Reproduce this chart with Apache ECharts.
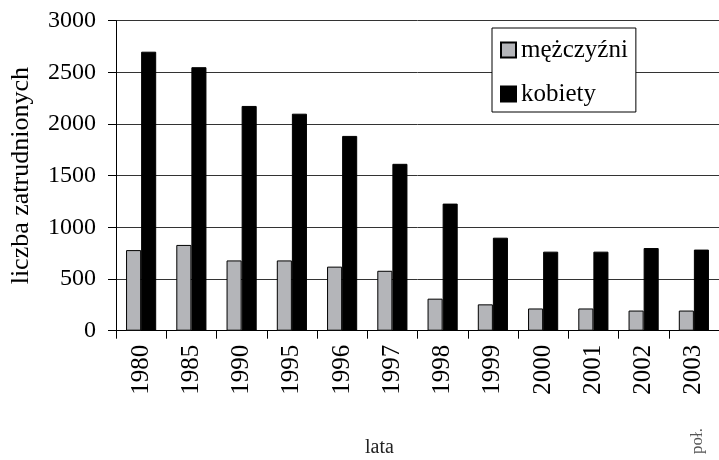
<!DOCTYPE html>
<html>
<head>
<meta charset="utf-8">
<script src="https://cdn.jsdelivr.net/npm/echarts@6/dist/echarts.min.js"></script>
<style>
  html, body { margin: 0; padding: 0; background: #fff; }
  #chart { width: 719px; height: 460px; }
</style>
</head>
<body>
<div id="chart"></div>
<script>
// dane
var lata = ["1980", "1985", "1990", "1995", "1996", "1997", "1998", "1999", "2000", "2001", "2002", "2003"];
var mezczyzni = [780, 830, 680, 680, 620, 580, 310, 255, 215, 215, 195, 195];
var kobiety = [2700, 2550, 2175, 2100, 1885, 1615, 1230, 900, 765, 765, 800, 785];
var yTicks = [0, 500, 1000, 1500, 2000, 2500, 3000];

var font = "Liberation Serif";
var chart = echarts.init(document.getElementById("chart"));

var option = {
  backgroundColor: "#fff",
  animation: false,
  grid: { left: 115, right: 0, top: 20.7, bottom: 129.3, containLabel: false },
  legend: {
    orient: "vertical",
    left: 492,
    top: 28,
    backgroundColor: "#fff",
    borderColor: "#000",
    borderWidth: 1,
    padding: [8, 8, 4, 8],
    itemWidth: 15,
    itemHeight: 15,
    itemGap: 16,
    icon: "rect",
    textStyle: { fontFamily: font, fontSize: 25, color: "#000", lineHeight: 28 },
    data: ["mężczyźni", "kobiety"]
  },
  xAxis: {
    type: "category",
    data: lata,
    axisLine: { lineStyle: { color: "#000", width: 1 } },
    axisTick: { show: true, length: 8, lineStyle: { color: "#000" } },
    axisLabel: { rotate: 90, margin: 14, fontFamily: font, fontSize: 25, color: "#000" }
  },
  yAxis: {
    type: "value",
    min: yTicks[0],
    max: yTicks[yTicks.length - 1],
    interval: 500,
    name: "liczba zatrudnionych",
    nameLocation: "middle",
    nameRotate: 90,
    nameGap: 82,
    nameTextStyle: { fontFamily: font, fontSize: 26, color: "#000" },
    axisLine: { show: true, lineStyle: { color: "#000" } },
    axisTick: { show: true, inside: false, length: 8, lineStyle: { color: "#000" } },
    axisLabel: {
      margin: 20, fontFamily: font, fontSize: 24, color: "#000",
      formatter: function (v) { return String(v); }
    },
    splitLine: { show: true, lineStyle: { color: "#333", width: 1 } }
  },
  graphic: [
    { type: "text", left: 365, top: 438, style: { text: "lata", font: "20px " + font, fill: "#222" } },
    { type: "text", x: 689, y: 454, rotation: Math.PI / 2, style: { text: "poł.", font: "17px " + font, fill: "#555" } }
  ],
  series: [
    {
      name: "mężczyźni",
      type: "bar",
      data: mezczyzni,
      barWidth: "30%",
      barGap: "0%",
      itemStyle: { color: "#b4b5b9", borderColor: "#000", borderWidth: 1 }
    },
    {
      name: "kobiety",
      type: "bar",
      data: kobiety,
      barWidth: "30%",
      itemStyle: { color: "#000", borderColor: "#000", borderWidth: 1 }
    }
  ]
};
chart.setOption(option);
</script>
</body>
</html>
